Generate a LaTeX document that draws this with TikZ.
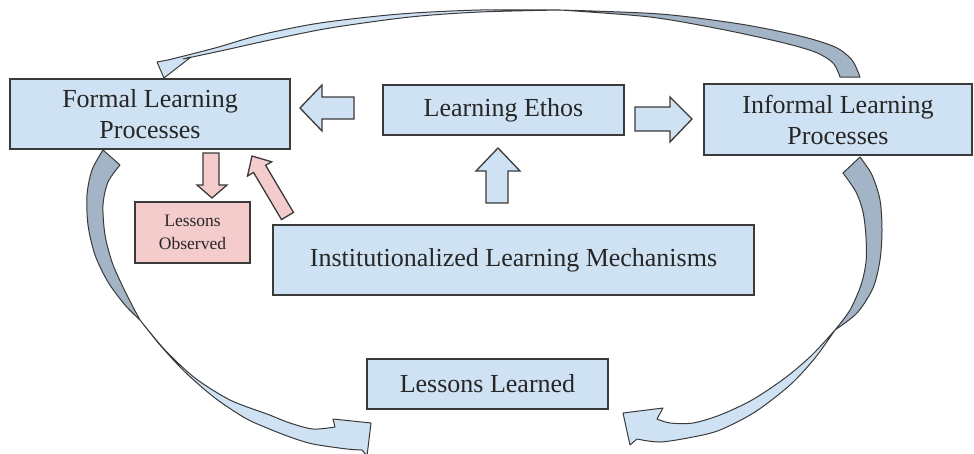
\documentclass[tikz,border=0pt]{standalone}
\usepackage{fontspec}
\setmainfont{Liberation Serif}
\definecolor{boxblue}{HTML}{CFE2F3}
\definecolor{boxpink}{HTML}{F4CCCC}
\definecolor{twist}{HTML}{A3B4C6}
\definecolor{edgec}{HTML}{3A3A3A}
\definecolor{ink}{HTML}{262626}
\tikzset{
  box/.style={draw=edgec, line width=1.3pt, fill=boxblue, text=ink, align=center,
    inner sep=0pt, font=\fontsize{26}{31}\selectfont},
  pinkbox/.style={box, fill=boxpink, font=\fontsize{17.5}{23}\selectfont},
  blockarrow/.style={draw=edgec, line width=1.3pt, fill=boxblue, line join=miter},
  pinkarrow/.style={blockarrow, fill=boxpink},
  backface/.style={draw=edgec, line width=1pt, fill=twist, line join=round},
  frontface/.style={draw=edgec, line width=1pt, fill=boxblue, line join=round},
}
\begin{document}
\begin{tikzpicture}[x=1pt,y=-1pt]
\useasboundingbox (0,0) rectangle (974,453);

% boxes
\node[box, minimum width=280, minimum height=70] (formal) at (150,114) {Formal Learning\\Processes};
\node[box, minimum width=241, minimum height=50] (ethos) at (503.5,110) {Learning Ethos};
\node[box, minimum width=268, minimum height=71] (informal) at (838,119.5) {Informal Learning\\Processes};
\node[pinkbox, minimum width=115, minimum height=61] (observed) at (192.5,232.5) {Lessons\\Observed};
\node[box, minimum width=481, minimum height=70] (ilm) at (513.5,260) {Institutionalized Learning Mechanisms};
\node[box, minimum width=241, minimum height=50] (learned) at (487.5,384) {Lessons Learned};

% block arrows
\filldraw[blockarrow] (354,97) -- (322,97) -- (322,85) -- (300,108) -- (322,131) -- (322,119) -- (354,119) -- cycle;
\filldraw[blockarrow] (635,107) -- (670,107) -- (670,97) -- (692,119) -- (670,142) -- (670,131) -- (635,131) -- cycle;
\filldraw[blockarrow] (486,203) -- (486,171) -- (476,171) -- (498,148) -- (520,171) -- (508,171) -- (508,203) -- cycle;
\filldraw[pinkarrow] (203,153) -- (219,153) -- (219,185) -- (227,185) -- (212,198) -- (197,185) -- (203,185) -- cycle;
\filldraw[pinkarrow] (293.5,212.4) -- (265.6,165.3) -- (271.7,161.8) -- (252,156) -- (247.5,176.0) -- (253.6,172.5) -- (281.5,219.6) -- cycle;

% curved arrow: informal -> formal (top)
\filldraw[backface] plot[smooth] coordinates {(860,77) (852,60) (835,47) (800,36) (740,24) (660,14) (560,10)}
  -- plot[smooth] coordinates {(560,10) (650,17) (720,29) (780,42) (815,52) (833,63) (840,77)} -- cycle;
\filldraw[frontface] plot[smooth] coordinates {(560,10) (480,10) (400,14) (320,23) (260,35) (215,48) (168,60)}
  -- (157,62) -- (164,78) -- (191,57)
  -- plot[smooth] coordinates {(183,59) (225,50) (270,40) (330,28) (410,17) (480,12) (560,10)} -- cycle;

% curved arrow: formal -> learned (left)
\filldraw[backface] plot[smooth] coordinates {(103,150) (92,170) (87,195) (88,225) (95,255) (108,282) (125,305) (140,320)}
  -- plot[smooth] coordinates {(140,320) (132,305) (122,285) (112,262) (105,235) (103,205) (108,182) (120,165)} -- cycle;
\filldraw[frontface] plot[smooth] coordinates {(140,320) (165,350) (195,378) (230,400) (267,414) (290,423) (313,429) (335,427)}
  -- (333,419) -- (371,423) -- (367,456)
  -- plot[smooth] coordinates {(362,450) (347,449) (313,444) (290,437) (267,428) (245,418) (215,398) (185,372) (160,345) (140,320)} -- cycle;

% curved arrow: informal -> learned (right)
\filldraw[backface] plot[smooth] coordinates {(860,157) (872,175) (880,200) (882,230) (880,260) (873,288) (857,313) (835,330)}
  -- plot[smooth] coordinates {(835,330) (850,310) (861,285) (866,262) (866,237) (863,212) (856,192) (843,173)} -- cycle;
\filldraw[frontface] plot[smooth] coordinates {(835,330) (815,358) (790,385) (755,412) (720,430) (693,437) (660,442) (637,439)}
  -- (630,445) -- (623,413) -- (663,408)
  -- plot[smooth] coordinates {(657,419) (670,423) (693,423) (720,415) (752,400) (785,378) (812,355) (835,330)} -- cycle;
\end{tikzpicture}
\end{document}
